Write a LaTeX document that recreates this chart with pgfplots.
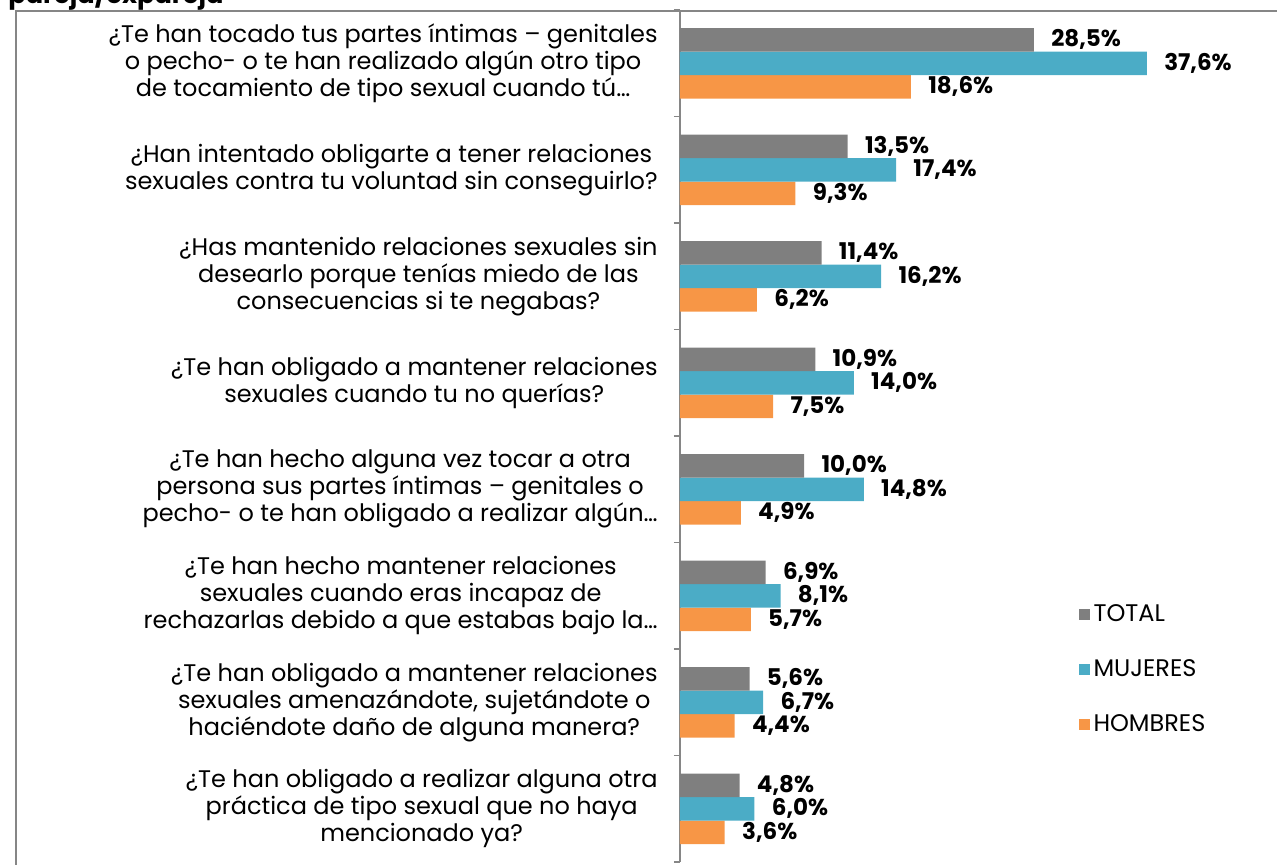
\documentclass[border=0pt]{standalone}
\usepackage{fontspec}
\setmainfont{Poppins}
\usepackage{pgfplots}
\pgfplotsset{compat=1.18}
\definecolor{cTot}{HTML}{7F7F7F}
\definecolor{cMuj}{HTML}{4BACC6}
\definecolor{cHom}{HTML}{F79646}
\definecolor{frm}{HTML}{868686}
\begin{document}
\begin{tikzpicture}
% frame (extends beyond the visible area)
\draw[frm, line width=1pt] (300pt,425.5pt) -- (-332pt,425.5pt) -- (-332pt,-10pt);
\node[anchor=base west, inner sep=0pt, font=\bfseries\fontsize{12.8}{14}\selectfont] at (-336pt,429.3pt) {pareja/expareja};
\begin{axis}[
  at={(0pt,0pt)}, anchor=south west,
  width=298pt, height=426pt, scale only axis,
  xmin=0, xmax=48, ymin=-0.5, ymax=7.5, y dir=reverse,
  xbar=0pt, bar width=11.75pt,
  axis x line=none, axis y line*=left,
  y axis line style={frm, line width=0.8pt, -},
  ytick={0,...,7},
  major tick length=0pt,
  extra y ticks={-0.5,0.5,...,7.5},
  extra y tick labels={},
  extra y tick style={major tick length=3pt, tick align=outside, tick style={frm, line width=0.8pt}},
  yticklabel style={align=center, inner sep=0pt, xshift=-11pt, text=black,
    font=\fontsize{12}{13.5}\selectfont},
  yticklabels={
    {¿Te han tocado tus partes íntimas – genitales\\o pecho- o te han realizado algún otro tipo\\de tocamiento de tipo sexual cuando tú…},
    {¿Han intentado obligarte a tener relaciones\\sexuales contra tu voluntad sin conseguirlo?},
    {¿Has mantenido relaciones sexuales sin\\desearlo porque tenías miedo de las\\consecuencias si te negabas?},
    {¿Te han obligado a mantener relaciones\\sexuales cuando tu no querías?},
    {¿Te han hecho alguna vez tocar a otra\\persona sus partes íntimas – genitales o\\pecho- o te han obligado a realizar algún…},
    {¿Te han hecho mantener relaciones\\sexuales cuando eras incapaz de\\rechazarlas debido a que estabas bajo la…},
    {¿Te han obligado a mantener relaciones\\sexuales amenazándote, sujetándote o\\haciéndote daño de alguna manera?},
    {¿Te han obligado a realizar alguna otra\\práctica de tipo sexual que no haya\\mencionado ya?}
  },
  /pgf/number format/assume math mode=true,
  nodes near coords={\pgfmathprintnumber[fixed,fixed zerofill,precision=1,use comma]{\pgfplotspointmeta}\%},
  every node near coord/.append style={anchor=west, inner sep=0pt, xshift=8.5pt, text=black,
    font=\bfseries\fontsize{11.5}{13}\selectfont},
  legend style={draw=none, fill=none, at={(0.668,0.307)}, anchor=north west,
    font=\fontsize{12}{13}\selectfont, row sep=13.5pt, inner sep=0pt,
    /tikz/every even column/.style={column sep=0pt}},
  legend cell align=left,
  reverse legend,
  legend image code/.code={\fill (0pt,-2.75pt) rectangle (5.5pt,2.75pt);},
  clip=false,
]
\addplot[fill=cHom, draw=none] coordinates {(18.6,0) (9.3,1) (6.2,2) (7.5,3) (4.9,4) (5.7,5) (4.4,6) (3.6,7)};
\addplot[fill=cMuj, draw=none] coordinates {(37.6,0) (17.4,1) (16.2,2) (14.0,3) (14.8,4) (8.1,5) (6.7,6) (6.0,7)};
\addplot[fill=cTot, draw=none] coordinates {(28.5,0) (13.5,1) (11.4,2) (10.9,3) (10.0,4) (6.9,5) (5.6,6) (4.8,7)};
\legend{HOMBRES,MUJERES,TOTAL}
\end{axis}
\pgfresetboundingbox
\useasboundingbox (-340pt,-1pt) rectangle (298.5pt,431pt);
\end{tikzpicture}
\end{document}
